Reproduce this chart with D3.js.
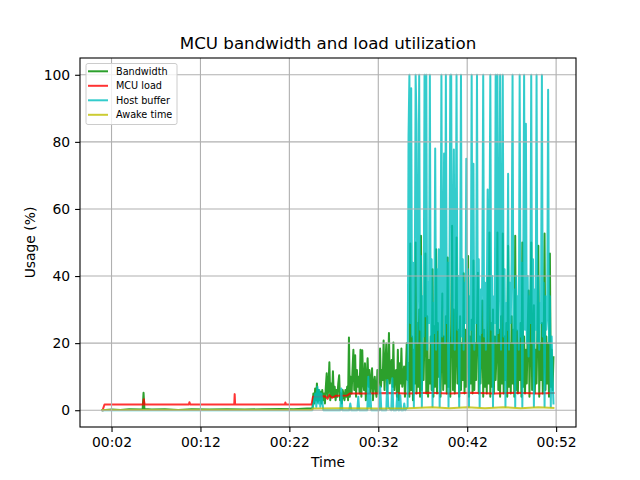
<!DOCTYPE html>
<html>
<head>
<meta charset="utf-8">
<script src="https://cdn.jsdelivr.net/npm/d3@7"></script>
<style>
  html, body { margin: 0; padding: 0; background: #fff; }
  svg { display: block; font-family: "DejaVu Sans", sans-serif; }
</style>
</head>
<body>
<svg id="chart" width="640" height="480"></svg>
<script>
// ---------------- DATA (time in minutes, value in %) ----------------
const title = "MCU bandwidth and load utilization";
const xLabel = "Time";
const yLabel = "Usage (%)";
const seriesNames = ["Bandwidth", "MCU load", "Host buffer", "Awake time"];
const xTickMinutes = [2, 12, 22, 32, 42, 52];
const xTickLabels = ["00:02", "00:12", "00:22", "00:32", "00:42", "00:52"];
const yTicks = [0, 20, 40, 60, 80, 100];

// Bandwidth: idle part as [time, value] pairs
const bandwidthIdle = [
  [0.99,0],[2.0,0.2],[3.0,0.1],[4.0,0.3],[5.5,0.2],[5.6,5.2],[5.7,0.4],[6.5,0.2],[8,0.3],[9.5,0.1],
  [11,0.3],[13,0.2],[15,0.3],[17,0.2],[19,0.3],[21,0.4],[22.5,0.3],[24.0,0.5]
];
// Bandwidth: busy part, one sample every 0.1 min starting at 24.6 min
const bandwidthStart = 24.6, bandwidthStep = 0.1;
const bandwidthSamples = [
  0.6,5,2,6.5,3,8,2.5,6,3,5.5, 2,6,3,5,2,7,11,4,7,14.3,
  3,8,4,11.6,4,7,3,6,4,8, 10.4,3,5,2,6,4.5,3,6,4,7,
  3,21.7,4,10,5,12,18,6,16.4,4, 12,7,10,5,18,4,17.9,8,6,14,
  3,10,15.5,7,12,5,9,12.5,3,8, 10,6,4,12,5,10,18.4,7,12,9,
  20.8,6,14,19.9,5,12,23,8,13,15, 7,20.2,6,11,12,4,18,3,14,8,
  18.4,7,10,13,4,11,20,9,
  14,4,49.7,6,22,3,18,8,50,5, 26,7,30,4,52,6,20,9,24,46.7,
  5,28,4,15,8,22,6,42,4,25, 7,48,5,26,10,20,4,18,34.8,6,
  22,8,28,5,45.5,7,20,4,26,55, 6,30,5,18,51.5,8,24,4,28,6,
  20,9,40.8,5,24,7,18,46,4,22, 8,27,5,44.6,6,20,9,26,41,5,
  22,8,18,32.7,4,24,7,20,5,39.6, 8,53,4,26,7,30,5,22,9,18,
  53,6,24,4,28,8,52.7,5,22,9, 26,4,49,7,20,5,28,8,24,4,
  52,6,23.8,5,20,9,26,4,50,7, 22,5,18,8,24,35.7,4,20,50,6,
  22,31.3,5,18,8,24,49,4,20,9, 26,5,18,52.7,6,22,8,20,4,46.7,
  7,18,6,15.8
];

const mcuLoad = [
  [0.99,0],[1.21,1.7],[5.55,1.7],[5.63,3.3],[5.72,1.7],[10.70,1.7],[10.76,2.4],[10.85,1.7],
  [15.80,1.7],[15.85,4.8],[15.90,1.7],[21.50,1.7],[21.55,2.3],[21.62,1.7],[24.50,1.7],[24.65,4.0],
  [25.50,4.1],[26.00,4.2],[26.30,3.4],[26.50,4.5],[26.80,3.7],[27.20,4.3],[28.50,4.4],[28.80,5.0],
  [31.00,5.0],[33.00,5.1],[35.40,5.0],[37.50,5.2],[40.00,5.0],[42.50,5.2],[45.00,5.0],[47.50,5.2],
  [50.00,5.0],[51.70,5.1]
];

// Host buffer: idle / warm-up part as [time, value] pairs
const hostBufferIdle = [
  [0.99,0],[24.58,0],[24.92,5],[25.03,1],[25.15,7],[25.26,2],[25.37,6],[25.48,1],[25.60,5],[25.82,0],
  [27.73,0],[27.84,6.5],[27.96,0],[28.74,0],[28.85,2],[28.97,0],[29.64,0],[29.75,4],[29.86,0],
  [30.76,0],[30.88,10],[30.99,1],[31.10,5],[31.21,0],[32.11,0],[32.22,7],[32.34,0],[32.90,0],[33.01,9],
  [33.12,1],[33.46,0],[33.58,9.5],[33.69,0],[34.02,0],[34.14,5],[34.25,0],[34.36,0],[34.47,4.5],[34.58,0],
  [34.81,0],[34.92,2],[35.03,0],[35.30,1]
];
// Host buffer: busy part, one sample every 0.1 min starting at 35.4 min
const hostBufferStart = 35.4, hostBufferStep = 0.1;
const hostBufferSamples = [
  81.5,100,26,96,22,44,1,36,100,85.7, 20,40,100,24,46,1,34,22,100,28,
  100,18,38,26,100,20,45,1,32,23, 78,18,42,24,48,1,34,100,22,38,
  76.5,20,100,26,44,1,36,100,100,20, 46,77.7,18,36,100,24,40,1,32,100,
  22,45,18,38,26,75,20,42,1,34, 24,100,20,73.5,18,40,26,100,20,45,
  1,36,23,42,100,22,38,18,33,65.8, 20,44,100,24,40,1,34,26,100,20,
  100,23,40,100,18,36,100,22,42,1, 32,24,70.5,18,38,26,45,100,20,36,
  1,40,24,34,18,100,22,44,1,36, 100,24,85.4,20,40,16,34,26,100,20,
  45,1,36,24,100,20,40,18,32,26, 100,22,38,1,34,24,28,95.5,20,34,
  1,22,10,2
];

const awakeTime = [
  [0.99,0.1],[10,0.1],[20,0.1],[24.50,0.1],[24.65,0.5],[28,0.6],[32,0.5],[35.37,0.6],
  [38,0.9],[40,0.6],[42,0.9],[44,0.6],[46,0.9],[48,0.6],[50,0.9],[51.70,0.7]
];

const colors = ["#2ca02c", "#ff0000", "#00bfbf", "#bfbf00"];
const opacities = [1, 0.8, 0.8, 0.8];

// ---------------- SERIES ASSEMBLY ----------------
const bandwidth = bandwidthIdle.concat(
  bandwidthSamples.map((v, i) => [bandwidthStart + i * bandwidthStep, v]));
const hostBuffer = hostBufferIdle.concat(
  hostBufferSamples.map((v, i) => [hostBufferStart + i * hostBufferStep, v]));

// ---------------- CHART ----------------
const svg = d3.select("#chart");
const W = 640, H = 480;
const m = { left: 80, right: 64, top: 58, bottom: 53 };
const iw = W - m.left - m.right, ih = H - m.top - m.bottom;

const allSeries = [bandwidth, mcuLoad, hostBuffer, awakeTime];
const allT = allSeries.flat().map(d => d[0]);
const tMin = d3.min(allT), tMax = d3.max(allT);
const pad = (tMax - tMin) * 0.05;

const x = d3.scaleLinear().domain([tMin - pad, tMax + pad]).range([m.left, m.left + iw]);
const y = d3.scaleLinear().domain([-5, 105]).range([m.top + ih, m.top]);

svg.append("rect").attr("width", W).attr("height", H).attr("fill", "#fff");

svg.append("clipPath").attr("id", "plotclip")
  .append("rect").attr("x", m.left).attr("y", m.top).attr("width", iw).attr("height", ih);

const plot = svg.append("g").attr("clip-path", "url(#plotclip)");
const line = d3.line().x(d => x(d[0])).y(d => y(d[1]));

allSeries.forEach((s, i) => {
  plot.append("path")
    .datum(s)
    .attr("d", line)
    .attr("fill", "none")
    .attr("stroke", colors[i])
    .attr("stroke-opacity", opacities[i])
    .attr("stroke-width", 2)
    .attr("stroke-linejoin", "round")
    .attr("stroke-linecap", "square");
});

// grid (drawn above lines, like matplotlib)
const grid = svg.append("g");
grid.selectAll(".gx").data(xTickMinutes).enter().append("line")
  .attr("x1", d => x(d)).attr("x2", d => x(d))
  .attr("y1", m.top).attr("y2", m.top + ih)
  .attr("stroke", "#b0b0b0").attr("stroke-width", 1.1);
grid.selectAll(".gy").data(yTicks).enter().append("line")
  .attr("x1", m.left).attr("x2", m.left + iw)
  .attr("y1", d => y(d)).attr("y2", d => y(d))
  .attr("stroke", "#b0b0b0").attr("stroke-width", 1.1);

// axes
const xAxis = d3.axisBottom(x).tickValues(xTickMinutes)
  .tickFormat((d, i) => xTickLabels[i]).tickSizeOuter(0).tickSize(4.9).tickPadding(4.9);
const yAxis = d3.axisLeft(y).tickValues(yTicks)
  .tickFormat(d3.format("d")).tickSizeOuter(0).tickSize(4.9).tickPadding(4.9);

const gx = svg.append("g").attr("transform", `translate(0,${m.top + ih})`).call(xAxis);
const gy = svg.append("g").attr("transform", `translate(${m.left},0)`).call(yAxis);
[gx, gy].forEach(g => {
  g.select(".domain").remove();
  g.selectAll(".tick line").attr("stroke", "#000").attr("stroke-width", 1.1);
  g.selectAll(".tick text").attr("fill", "#000")
    .style("font-family", "DejaVu Sans").style("font-size", "13.9px");
});

// frame
svg.append("rect")
  .attr("x", m.left).attr("y", m.top).attr("width", iw).attr("height", ih)
  .attr("fill", "none").attr("stroke", "#000").attr("stroke-width", 1.1);

// title and labels
svg.append("text").attr("x", m.left + iw / 2).attr("y", 49)
  .attr("text-anchor", "middle").style("font-size", "16.7px").text(title);
svg.append("text").attr("x", m.left + iw / 2).attr("y", 467)
  .attr("text-anchor", "middle").style("font-size", "13.9px").text(xLabel);
svg.append("text")
  .attr("transform", `translate(35,${m.top + ih / 2}) rotate(-90)`)
  .attr("text-anchor", "middle").style("font-size", "13.9px").text(yLabel);

// legend
const lg = svg.append("g");
lg.append("rect").attr("x", 86).attr("y", 63.5).attr("width", 91).attr("height", 61)
  .attr("rx", 2).attr("fill", "#fff").attr("fill-opacity", 0.8)
  .attr("stroke", "#cccccc").attr("stroke-width", 1);
seriesNames.forEach((name, i) => {
  const cy = 71.3 + i * 14.5;
  lg.append("line").attr("x1", 88).attr("x2", 108).attr("y1", cy).attr("y2", cy)
    .attr("stroke", colors[i]).attr("stroke-opacity", opacities[i]).attr("stroke-width", 2);
  lg.append("text").attr("x", 116).attr("y", cy).attr("dy", "0.35em")
    .style("font-size", "9.7px").text(name);
});
</script>
</body>
</html>
